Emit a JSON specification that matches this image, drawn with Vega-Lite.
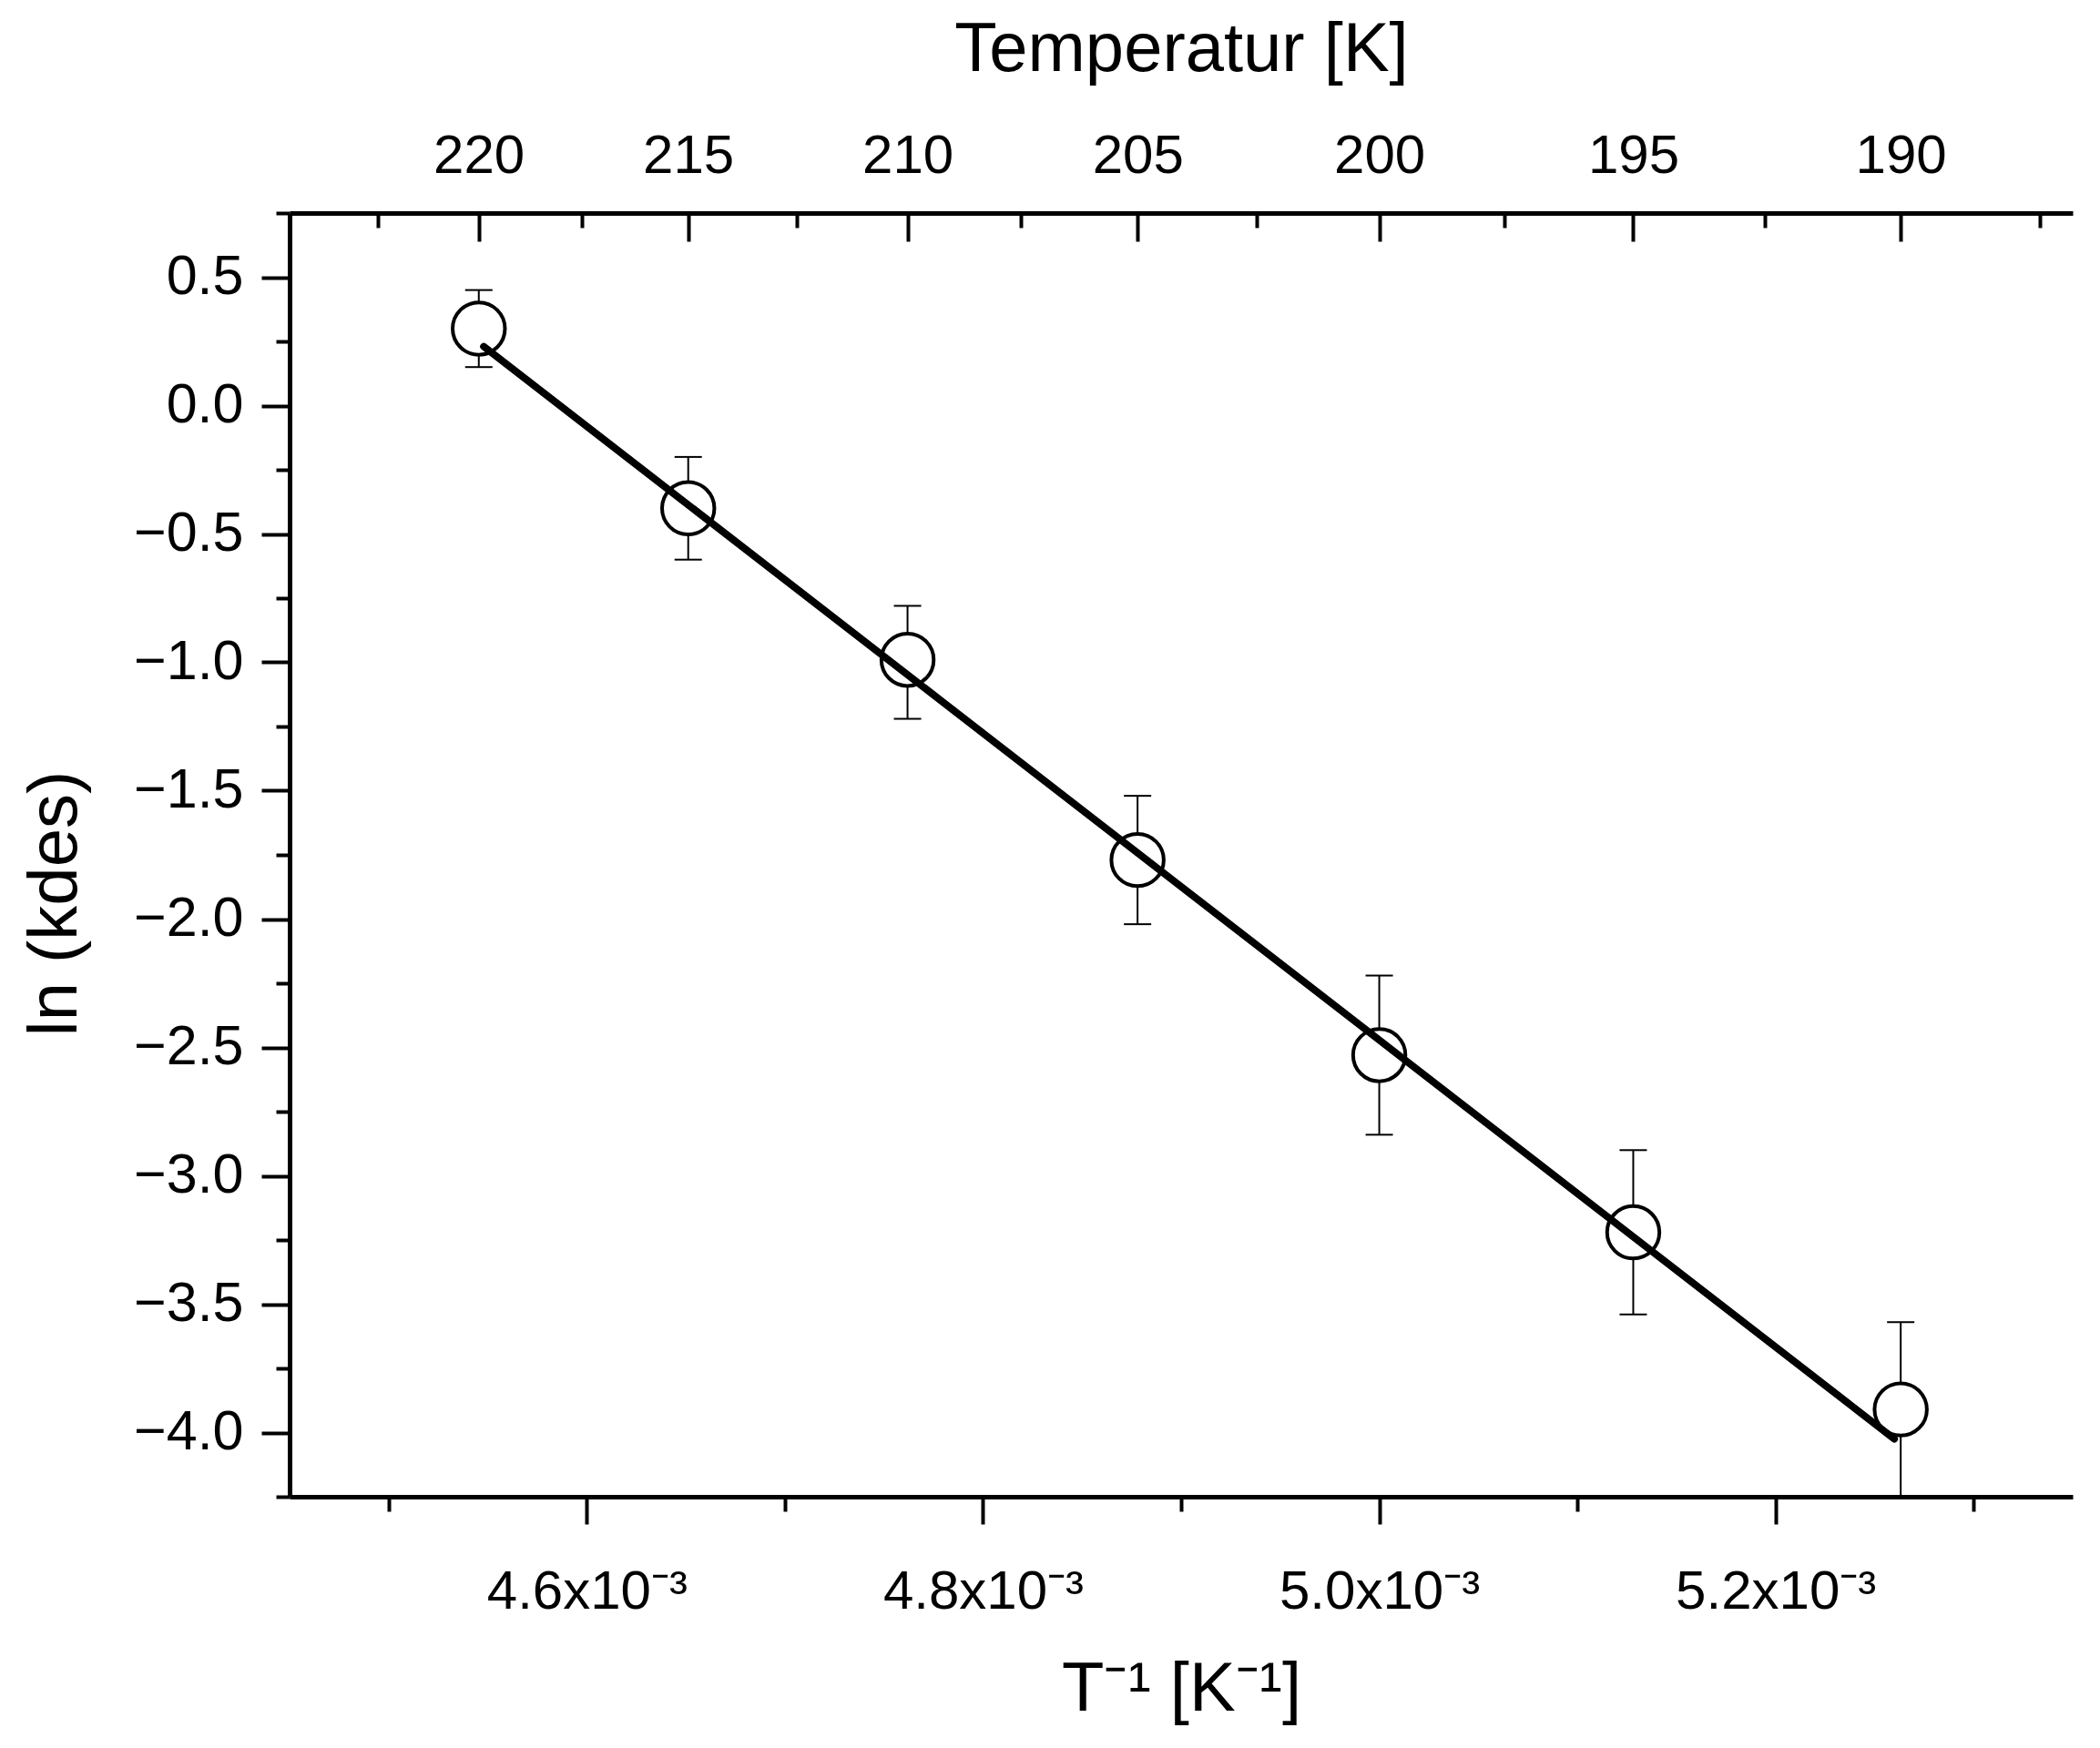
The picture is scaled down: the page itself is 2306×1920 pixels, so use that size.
{
  "$schema": "https://vega.github.io/schema/vega-lite/v6.json",
  "width": 1958,
  "height": 1410,
  "autosize": {"type": "none"},
  "padding": {"left": 318, "top": 234, "right": 30, "bottom": 276},
  "background": "white",
  "datasets": {
    "pts": [
      {"invT": 0.0045455, "T": 220, "lnk": 0.30, "hi": 0.45, "lo": 0.15},
      {"invT": 0.0046512, "T": 215, "lnk": -0.40, "hi": -0.20, "lo": -0.60},
      {"invT": 0.0047619, "T": 210, "lnk": -0.99, "hi": -0.78, "lo": -1.22},
      {"invT": 0.0048780, "T": 205, "lnk": -1.77, "hi": -1.52, "lo": -2.02},
      {"invT": 0.0050000, "T": 200, "lnk": -2.53, "hi": -2.22, "lo": -2.84},
      {"invT": 0.0051282, "T": 195, "lnk": -3.22, "hi": -2.90, "lo": -3.54},
      {"invT": 0.0052632, "T": 190, "lnk": -3.91, "hi": -3.57, "lo": -4.25}
    ],
    "fit": [
      {"invT": 0.004548, "lnk": 0.23},
      {"invT": 0.00526, "lnk": -4.025}
    ]
  },
  "resolve": {"axis": {"x": "independent", "y": "independent"}},
  "layer": [
    {
      "data": {"name": "pts"},
      "mark": {"type": "rule", "color": "black", "strokeWidth": 2},
      "encoding": {
        "x": {
          "field": "invT", "type": "quantitative",
          "scale": {"domain": [0.00445, 0.00535], "nice": false, "zero": false},
          "axis": {
            "orient": "bottom",
            "values": [0.0046, 0.0048, 0.005, 0.0052],
            "labelExpr": "format(datum.value * 1000, '.1f') + 'x10⁻³'",
            "tickSize": 30,
            "labelPadding": 45,
            "labelLimit": 0,
            "labelFlush": false,
            "labelOverlap": false,
            "title": "T⁻¹ [K⁻¹]",
            "titlePadding": 40
          }
        },
        "y": {
          "field": "hi", "type": "quantitative",
          "scale": {"domain": [-4.25, 0.75], "nice": false, "zero": false},
          "axis": {
            "orient": "left",
            "values": [0.5, 0, -0.5, -1, -1.5, -2, -2.5, -3, -3.5, -4],
            "format": ".1f",
            "tickSize": 31,
            "labelPadding": 20,
            "labelFontSize": 61,
            "title": "ln (kdes)",
            "titlePadding": 47,
            "titleY": 758
          }
        },
        "y2": {"field": "lo"}
      }
    },
    {
      "data": {"name": "pts"},
      "mark": {"type": "tick", "orient": "horizontal", "size": 30, "thickness": 2, "color": "black", "opacity": 1},
      "encoding": {
        "x": {
          "field": "invT", "type": "quantitative",
          "scale": {"domain": [0.00445, 0.00535], "nice": false, "zero": false},
          "axis": {
            "orient": "top",
            "values": [0.0045454545, 0.0046511628, 0.0047619048, 0.0048780488, 0.005, 0.0051282051, 0.0052631579],
            "labelExpr": "format(1 / datum.value, '.0f')",
            "tickSize": -31,
            "labelPadding": 63,
            "labelFlush": false,
            "labelOverlap": false,
            "title": "Temperatur [K]",
            "titlePadding": 48
          }
        },
        "y": {
          "field": "hi", "type": "quantitative",
          "scale": {"domain": [-4.25, 0.75], "nice": false, "zero": false},
          "axis": {
            "orient": "left",
            "values": [0.75, 0.25, -0.25, -0.75, -1.25, -1.75, -2.25, -2.75, -3.25, -3.75, -4.25],
            "tickSize": 15,
            "labels": false,
            "domain": false,
            "title": null
          }
        }
      }
    },
    {
      "data": {"name": "pts"},
      "mark": {"type": "tick", "orient": "horizontal", "size": 30, "thickness": 2, "color": "black", "opacity": 1},
      "encoding": {
        "x": {
          "field": "invT", "type": "quantitative",
          "scale": {"domain": [0.00445, 0.00535], "nice": false, "zero": false},
          "axis": {
            "orient": "bottom",
            "values": [0.0045, 0.0047, 0.0049, 0.0051, 0.0053],
            "tickSize": 16,
            "labels": false,
            "domain": false,
            "title": null
          }
        },
        "y": {
          "field": "lo", "type": "quantitative",
          "scale": {"domain": [-4.25, 0.75], "nice": false, "zero": false},
          "axis": null
        }
      }
    },
    {
      "data": {"name": "pts"},
      "mark": {"type": "point", "shape": "circle", "size": 3300, "fill": "white", "fillOpacity": 1, "stroke": "black", "strokeWidth": 4, "opacity": 1},
      "encoding": {
        "x": {
          "field": "invT", "type": "quantitative",
          "scale": {"domain": [0.00445, 0.00535], "nice": false, "zero": false},
          "axis": {
            "orient": "top",
            "values": [0.0044943820, 0.0045977011, 0.0047058824, 0.0048192771, 0.0049382716, 0.0050632911, 0.0051948052, 0.0053333333],
            "tickSize": -16,
            "labels": false,
            "domain": false,
            "title": null
          }
        },
        "y": {
          "field": "lnk", "type": "quantitative",
          "scale": {"domain": [-4.25, 0.75], "nice": false, "zero": false},
          "axis": null
        }
      }
    },
    {
      "data": {"name": "fit"},
      "mark": {"type": "line", "color": "black", "strokeWidth": 8, "strokeCap": "round"},
      "encoding": {
        "x": {
          "field": "invT", "type": "quantitative",
          "scale": {"domain": [0.00445, 0.00535], "nice": false, "zero": false},
          "axis": null
        },
        "y": {
          "field": "lnk", "type": "quantitative",
          "scale": {"domain": [-4.25, 0.75], "nice": false, "zero": false},
          "axis": null
        }
      }
    }
  ],
  "config": {
    "view": {"stroke": null},
    "axis": {
      "grid": false,
      "domainColor": "black",
      "domainWidth": 5,
      "tickColor": "black",
      "tickWidth": 4,
      "labelColor": "black",
      "titleColor": "black",
      "labelFont": "Liberation Sans",
      "titleFont": "Liberation Sans",
      "labelFontSize": 60,
      "titleFontSize": 76,
      "titleFontWeight": "normal"
    }
  }
}
